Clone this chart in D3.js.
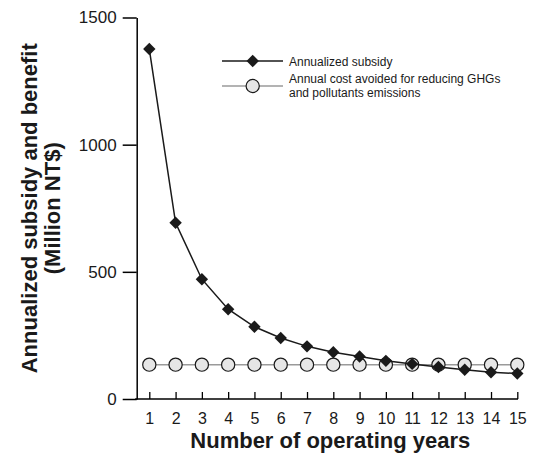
<!DOCTYPE html>
<html>
<head>
<meta charset="utf-8">
<script src="https://cdn.jsdelivr.net/npm/d3@7"></script>
<style>
  html, body { margin: 0; padding: 0; background: #fff; }
  svg { display: block; font-family: "Liberation Sans", Arial, sans-serif; }
</style>
</head>
<body>
<svg id="chart" width="536" height="458"></svg>
<script>
// Operating years on the horizontal axis
const years = [1, 2, 3, 4, 5, 6, 7, 8, 9, 10, 11, 12, 13, 14, 15];
// Annualized subsidy (Million NT$)
const subsidy = [1376, 693, 471, 353, 284, 240, 207, 184, 167, 150, 138, 126, 115, 105, 100];
// Annual cost avoided for reducing GHGs and pollutants emissions (Million NT$)
const avoided = [135, 135, 135, 135, 135, 135, 135, 135, 135, 135, 135, 135, 135, 135, 135];
const yTicks = [0, 500, 1000, 1500];
const seriesNames = ["Annualized subsidy",
  ["Annual cost avoided for reducing GHGs", "and pollutants emissions"]];

const svg = d3.select("#chart");

const x = d3.scaleLinear().domain([1, 15]).range([149.3, 517.3]);
const y = d3.scaleLinear().domain([0, 1500]).range([399, 17.5]);
const axisLeftX = 136.7;

// y axis: outward ticks
const gy = svg.append("g").attr("transform", `translate(${axisLeftX},0)`)
  .call(d3.axisLeft(y).tickValues(yTicks).tickFormat(d3.format("d"))
    .tickSize(14).tickSizeOuter(0).tickPadding(6));
gy.select(".domain").attr("stroke-width", 1.5);
gy.selectAll(".tick line").attr("stroke-width", 1.5);
gy.selectAll(".tick text").attr("font-size", 17).attr("fill", "#1a1a1a")
  .attr("font-family", "Liberation Sans, Arial, sans-serif");

// x axis: ticks pointing into the plot
const gx = svg.append("g").attr("transform", `translate(0,${y(0)})`)
  .call(d3.axisBottom(x).tickValues(years).tickFormat(d3.format("d"))
    .tickSizeInner(-7).tickSizeOuter(0).tickPadding(14));
gx.select(".domain").attr("d", `M${axisLeftX - 1.5},0H${x(15) + 0.7}`).attr("stroke-width", 1.5);
gx.selectAll(".tick line").attr("stroke-width", 1.3);
gx.selectAll(".tick text").attr("font-size", 16).attr("fill", "#1a1a1a")
  .attr("font-family", "Liberation Sans, Arial, sans-serif");

// axis titles
svg.append("text")
  .attr("x", (x(1) + x(15)) / 2 - 3).attr("y", 448)
  .attr("text-anchor", "middle").attr("font-size", 22).attr("font-weight", "bold")
  .attr("fill", "#1a1a1a")
  .text("Number of operating years");

const yTitle = svg.append("text")
  .attr("transform", `translate(37,${(y(0) + y(1500)) / 2}) rotate(-90)`)
  .attr("text-anchor", "middle").attr("font-size", 22).attr("font-weight", "bold")
  .attr("fill", "#1a1a1a");
yTitle.append("tspan").attr("x", 0).attr("dy", 0).text("Annualized subsidy and benefit");
yTitle.append("tspan").attr("x", 0).attr("dy", 23).text("(Million NT$)");

// avoided-cost series: grey line with light circles
const avoidedData = years.map((d, i) => ({ x: d, y: avoided[i] }));
const subsidyData = years.map((d, i) => ({ x: d, y: subsidy[i] }));
const line = d3.line().x(d => x(d.x)).y(d => y(d.y));

svg.append("path").datum(avoidedData).attr("d", line)
  .attr("fill", "none").attr("stroke", "#9a9a9a").attr("stroke-width", 1.5);
svg.append("g").selectAll("circle").data(avoidedData).join("circle")
  .attr("cx", d => x(d.x)).attr("cy", d => y(d.y)).attr("r", 6.6)
  .attr("fill", "#e6e6e6").attr("stroke", "#1a1a1a").attr("stroke-width", 1.2);

// subsidy series: black line with diamonds
const diamond = d3.symbol().type(d3.symbolDiamond2).size(98);
svg.append("path").datum(subsidyData).attr("d", line)
  .attr("fill", "none").attr("stroke", "#1a1a1a").attr("stroke-width", 1.5);
svg.append("g").selectAll("path").data(subsidyData).join("path")
  .attr("d", diamond)
  .attr("transform", d => `translate(${x(d.x)},${y(d.y)})`)
  .attr("fill", "#1a1a1a");

// legend
const lg = svg.append("g");
const lx0 = 222, lx1 = 283, lmid = 252.7;
lg.append("line").attr("x1", lx0).attr("x2", lx1).attr("y1", 61).attr("y2", 61)
  .attr("stroke", "#1a1a1a").attr("stroke-width", 1.5);
lg.append("path").attr("d", diamond).attr("transform", `translate(${lmid},61)`).attr("fill", "#1a1a1a");
lg.append("text").attr("x", 289).attr("y", 66).attr("font-size", 12).attr("fill", "#1a1a1a")
  .text(seriesNames[0]);

lg.append("line").attr("x1", lx0).attr("x2", lx1).attr("y1", 86).attr("y2", 86)
  .attr("stroke", "#9a9a9a").attr("stroke-width", 1.5);
lg.append("circle").attr("cx", lmid).attr("cy", 86).attr("r", 6.6)
  .attr("fill", "#e6e6e6").attr("stroke", "#1a1a1a").attr("stroke-width", 1.2);
const lt = lg.append("text").attr("font-size", 12).attr("fill", "#1a1a1a");
seriesNames[1].forEach((s, i) => {
  lt.append("tspan").attr("x", 289).attr("y", 83 + i * 13.5).text(s);
});
</script>
</body>
</html>
